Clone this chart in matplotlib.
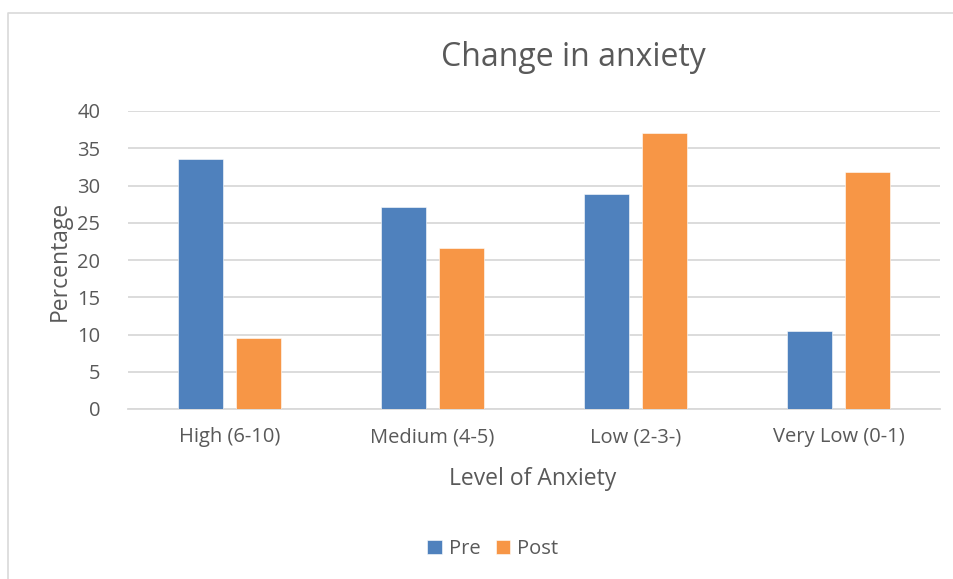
"""Change in anxiety: pre vs post percentages by anxiety level."""

import matplotlib
matplotlib.use("Agg")
import matplotlib.pyplot as plt
import numpy as np
from matplotlib.lines import Line2D

categories = ["High (6-10)", "Medium (4-5)", "Low (2-3-)", "Very Low (0-1)"]
pre_values = [33.6, 27.1, 28.8, 10.5]
post_values = [9.5, 21.6, 37.0, 31.8]
series_names = ["Pre", "Post"]
y_ticks = [0, 5, 10, 15, 20, 25, 30, 35, 40]

BLUE = "#4f81bd"
ORANGE = "#f79646"
TEXT = "#595959"
GRID = "#d9d9d9"

W, H = 954, 579
plt.rcParams["font.family"] = ["Open Sans", "DejaVu Sans"]

fig = plt.figure(figsize=(W / 100, H / 100), dpi=100)
fig.patch.set_facecolor("white")

# chart border: only left and top edges are inside the crop
fig.add_artist(Line2D([8.5 / W, 8.5 / W, 1.0], [0.0, 1 - 12.5 / H, 1 - 12.5 / H],
                      transform=fig.transFigure, color=GRID, linewidth=1.2))

ax = fig.add_axes([128 / W, 1 - 409 / H, (940 - 128) / W, (409 - 111) / H])

x = np.arange(len(categories))
width = 0.224
offset = 0.143
ax.bar(x - offset, pre_values, width, color=BLUE, edgecolor="white", linewidth=0.4,
       label=series_names[0], zorder=3)
ax.bar(x + offset, post_values, width, color=ORANGE, edgecolor="white", linewidth=0.4,
       label=series_names[1], zorder=3)

ax.set_xlim(-0.5, len(categories) - 0.5)
ax.set_ylim(0, 40)
ax.set_yticks(y_ticks)
ax.set_xticks(x)
ax.set_xticklabels(categories)
ax.yaxis.grid(True, color=GRID, linewidth=1.3, zorder=0)
ax.set_axisbelow(True)
for side in ["top", "right", "left"]:
    ax.spines[side].set_visible(False)
ax.spines["bottom"].set_color(GRID)
ax.spines["bottom"].set_linewidth(1.3)
ax.tick_params(axis="both", length=0, colors=TEXT, labelsize=14.5)
ax.tick_params(axis="y", pad=20)
ax.tick_params(axis="x", pad=13)

fig.text(573 / W, 1 - 58 / H, "Change in anxiety", ha="center", va="center",
         fontsize=23, color=TEXT)
fig.text(533 / W, 1 - 479 / H, "Level of Anxiety", ha="center", va="center",
         fontsize=16.5, color=TEXT)
fig.text(60 / W, 1 - 261 / H, "Percentage", ha="center", va="center",
         rotation=90, fontsize=16.5, color=TEXT)

ax.legend(loc="center", bbox_to_anchor=(493 / W, 1 - 549 / H), bbox_transform=fig.transFigure,
          ncol=2, frameon=False, fontsize=14.5, labelcolor=TEXT, handlelength=0.7,
          handleheight=0.7, handletextpad=0.35, columnspacing=0.8)

fig.savefig("out.png", dpi=100)
